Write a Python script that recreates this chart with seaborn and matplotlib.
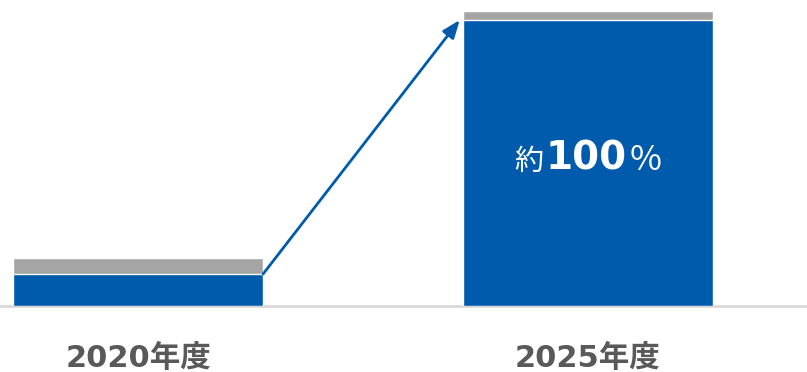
import matplotlib
matplotlib.use("Agg")
import matplotlib.pyplot as plt
from matplotlib.offsetbox import TextArea, HPacker, AnnotationBbox
import seaborn as sns
import pandas as pd

# Share of the target reached, by fiscal year (percent of the 2025 goal)
years = ["2020年度", "2025年度"]
achieved = [11.2, 100.0]
remaining = [5.6, 3.0]

BLUE = "#005BAC"
GRAY = "#A5A5A5"
TEXT = "#595959"

sns.set_theme(style="white")
plt.rcParams["font.family"] = ["DejaVu Sans", "Noto Sans CJK JP"]

df = pd.DataFrame({"year": years, "achieved": achieved, "remaining": remaining})
df["total"] = df["achieved"] + df["remaining"]

fig = plt.figure(figsize=(8.07, 3.72), dpi=100)
ax = fig.add_axes([0, 0.1774, 1, 0.8226])

bar_w = 0.556
sns.barplot(data=df, x="year", y="total", color=GRAY, width=bar_w,
            saturation=1, ax=ax)
sns.barplot(data=df, x="year", y="achieved", color=BLUE, width=bar_w,
            saturation=1, ax=ax)

ax.set_xlim(-0.3067, 1.4867)
ax.set_ylim(0, 107.0)
for s in ax.spines.values():
    s.set_visible(False)
ax.set_yticks([])
ax.set_xlabel("")
ax.set_ylabel("")
ax.tick_params(axis="x", length=0, pad=27, labelsize=22, labelcolor=TEXT)
for lab in ax.get_xticklabels():
    lab.set_fontweight("bold")

# baseline
ax.axhline(0, color="#D9D9D9", lw=2, zorder=0, clip_on=False)

# growth arrow from the top of the first bar to the second
half = bar_w / 2
ax.annotate("", xy=(1 - half - 0.007, df["achieved"][1]),
            xytext=(half, df["achieved"][0]),
            arrowprops=dict(arrowstyle="-|>,head_length=0.9,head_width=0.35",
                            color=BLUE, lw=2, shrinkA=0, shrinkB=0),
            zorder=5)

# value label inside the 2025 bar
parts = [
    TextArea("約", textprops=dict(color="white", fontsize=21,
                                  family=["Noto Sans CJK JP"])),
    TextArea(f"{df['achieved'][1]:.0f}", textprops=dict(color="white", fontsize=28,
                                                   fontweight="bold")),
    TextArea("%", textprops=dict(color="white", fontsize=25,
                                 family=["Noto Sans CJK JP"])),
]
box = HPacker(children=parts, align="baseline", pad=0, sep=2)
ab = AnnotationBbox(box, (1, 51.5), frameon=False, box_alignment=(0.5, 0.5))
ax.add_artist(ab)

fig.savefig("out.png", dpi=100)
